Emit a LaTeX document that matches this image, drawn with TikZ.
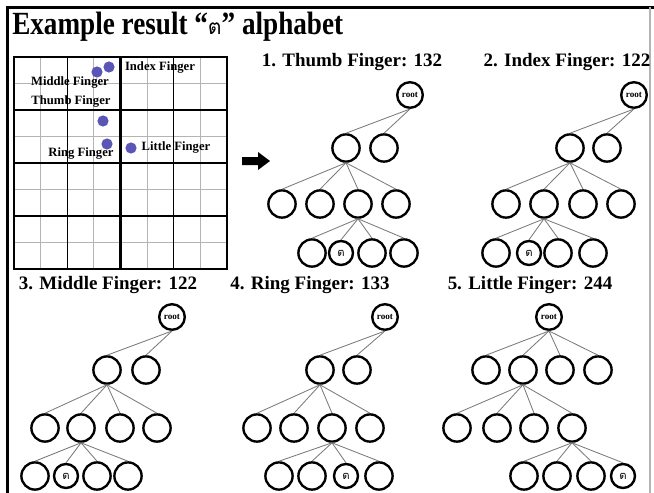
\documentclass[tikz,border=0pt]{standalone}
\usepackage{fontspec}
\setmainfont{Liberation Serif}
\newfontfamily\titlefont[FakeStretch=0.84]{Liberation Serif}
\newfontfamily\thaifont[Script=Thai]{Loma}
\usetikzlibrary{positioning}
\definecolor{dotblue}{HTML}{5A56B6}
\definecolor{gridgray}{HTML}{B4B4B4}
\definecolor{edgegray}{HTML}{7A7A7A}

\begin{document}
\begin{tikzpicture}[
  x=0.025cm, y=-0.025cm,
  every node/.style={font=\bfseries},
  leaf/.style={draw, circle, line width=1.7pt, minimum size=0.68cm, inner sep=0pt},
  rootnode/.style={leaf, minimum size=0.64cm, font=\bfseries\fontsize{6.5}{6.5}\selectfont},
  letter/.style={leaf, minimum size=0.6cm, font=\thaifont\fontsize{8}{8}\selectfont},
  edge/.style={draw=edgegray, line width=0.6pt},
  heading/.style={font=\bfseries\fontsize{13.5}{15}\selectfont, inner sep=0pt},
  tag/.style={font=\bfseries\fontsize{9}{10}\selectfont, inner sep=0pt},
  fingerdot/.style={circle, fill=dotblue, minimum size=0.28cm, inner sep=0pt},
  gridminor/.style={draw=gridgray, line width=0.6pt},
  gridmajor/.style={draw=black, line width=0.9pt},
  gridbold/.style={draw=black, line width=1.5pt}
]
\useasboundingbox (0,0) rectangle (654,493);

% frame
\draw[line width=1.5pt] (7.5,493) -- (7.5,7.5) -- (654,7.5);
\draw[gridgray, line width=0.8pt] (650,7.5) -- (650,493);

\node[anchor=base west, inner sep=0pt, font=\titlefont\bfseries\fontsize{23}{26}\selectfont] (title) at (12,35)
  {Example result “{\thaifont\mdseries\fontsize{15}{15}\selectfont ต}” alphabet};

% finger grid
\foreach \p in {40.6,93.9,147.1,200.4} {
  \draw[gridminor] (\p,57) -- (\p,269);
}
\foreach \p in {83.5,136.5,189.5,242.5} {
  \draw[gridminor] (14,\p) -- (227,\p);
}
\foreach \p in {67.3,173.8} {
  \draw[gridmajor] (\p,57) -- (\p,269);
}
\foreach \p in {110,216} {
  \draw[gridmajor] (14,\p) -- (227,\p);
}
\draw[gridbold] (120.5,57) -- (120.5,269);
\draw[gridbold] (14,163) -- (227,163);
\draw[gridbold] (14,57) rectangle (227,269);

\node[fingerdot] (middle) at (97,72) {};
\node[fingerdot] (index) at (109,67) {};
\node[fingerdot] (thumb) at (103,121) {};
\node[fingerdot] (ring) at (107,144) {};
\node[fingerdot] (little) at (131,148) {};
\node[tag] (indextag) at (160,68) {Index Finger};
\node[tag] (middletag) at (70,83) {Middle Finger};
\node[tag] (thumbtag) at (71,102) {Thumb Finger};
\node[tag] (ringtag) at (81,154) {Ring Finger};
\node[tag] (littletag) at (176,148) {Little Finger};

\fill (242,157) -- (258,157) -- (258,152) -- (270,161) -- (258,170) -- (258,165) -- (242,165) -- cycle;

% 1. thumb
\node[heading] (h1) at (352,62) {1. Thumb Finger: 132};
\node[rootnode] (t1r) at (410,95) {root};
\node[leaf] (t1a) at (346,148) {};
\node[leaf] (t1b) at (384,148) {};
\foreach \i/\x in {1/282,2/320,3/358,4/396} \node[leaf] (t1c\i) at (\x,204) {};
\node[leaf] (t1d1) at (312,253) {};
\node[letter] (t1d2) at (341,253) {ต};
\node[leaf] (t1d3) at (372,253) {};
\node[leaf] (t1d4) at (404,253) {};
\foreach \c in {t1a,t1b} \draw[edge] (t1r.south) -- (\c.north);
\foreach \i in {1,...,4} \draw[edge] (t1a.south) -- (t1c\i.north);
\foreach \i in {1,...,4} \draw[edge] (t1c3.south) -- (t1d\i.north);

% 2. index
\node[heading] (h2) at (567,62) {2. Index Finger: 122};
\node[rootnode] (t2r) at (634,95) {root};
\node[leaf] (t2a) at (570,148) {};
\node[leaf] (t2b) at (607,148) {};
\foreach \i/\x in {1/506,2/544,3/583,4/621} \node[leaf] (t2c\i) at (\x,204) {};
\node[leaf] (t2d1) at (496,253) {};
\node[letter] (t2d2) at (529,253) {ต};
\node[leaf] (t2d3) at (558,253) {};
\node[leaf] (t2d4) at (593,253) {};
\foreach \c in {t2a,t2b} \draw[edge] (t2r.south) -- (\c.north);
\foreach \i in {1,...,4} \draw[edge] (t2a.south) -- (t2c\i.north);
\foreach \i in {1,...,4} \draw[edge] (t2c2.south) -- (t2d\i.north);

% 3. middle
\node[heading] (h3) at (108,285) {3. Middle Finger: 122};
\node[rootnode] (t3r) at (172,317) {root};
\node[leaf] (t3a) at (107,370) {};
\node[leaf] (t3b) at (146,370) {};
\foreach \i/\x in {1/45,2/81,3/120,4/157} \node[leaf] (t3c\i) at (\x,428) {};
\node[leaf] (t3d1) at (35,476) {};
\node[letter] (t3d2) at (66,476) {ต};
\node[leaf] (t3d3) at (97,476) {};
\node[leaf] (t3d4) at (128,476) {};
\foreach \c in {t3a,t3b} \draw[edge] (t3r.south) -- (\c.north);
\foreach \i in {1,...,4} \draw[edge] (t3a.south) -- (t3c\i.north);
\foreach \i in {1,...,4} \draw[edge] (t3c2.south) -- (t3d\i.north);

% 4. ring
\node[heading] (h4) at (310,285) {4. Ring Finger: 133};
\node[rootnode] (t4r) at (385,317) {root};
\node[leaf] (t4a) at (320,370) {};
\node[leaf] (t4b) at (357,370) {};
\foreach \i/\x in {1/257,2/294,3/332,4/370} \node[leaf] (t4c\i) at (\x,428) {};
\node[leaf] (t4d1) at (279,476) {};
\node[leaf] (t4d2) at (312,476) {};
\node[letter] (t4d3) at (346,476) {ต};
\node[leaf] (t4d4) at (379,476) {};
\foreach \c in {t4a,t4b} \draw[edge] (t4r.south) -- (\c.north);
\foreach \i in {1,...,4} \draw[edge] (t4a.south) -- (t4c\i.north);
\foreach \i in {1,...,4} \draw[edge] (t4c3.south) -- (t4d\i.north);

% 5. little
\node[heading] (h5) at (530,285) {5. Little Finger: 244};
\node[rootnode] (t5r) at (549,317) {root};
\foreach \i/\x in {1/486,2/523,3/560,4/598} \node[leaf] (t5a\i) at (\x,370) {};
\foreach \i/\x in {1/457,2/497,3/534,4/572} \node[leaf] (t5c\i) at (\x,428) {};
\node[leaf] (t5d1) at (524,476) {};
\node[leaf] (t5d2) at (557,476) {};
\node[leaf] (t5d3) at (591,476) {};
\node[letter] (t5d4) at (623,476) {ต};
\foreach \i in {1,...,4} \draw[edge] (t5r.south) -- (t5a\i.north);
\foreach \i in {1,...,4} \draw[edge] (t5a2.south) -- (t5c\i.north);
\foreach \i in {1,...,4} \draw[edge] (t5c4.south) -- (t5d\i.north);
\end{tikzpicture}
\end{document}
